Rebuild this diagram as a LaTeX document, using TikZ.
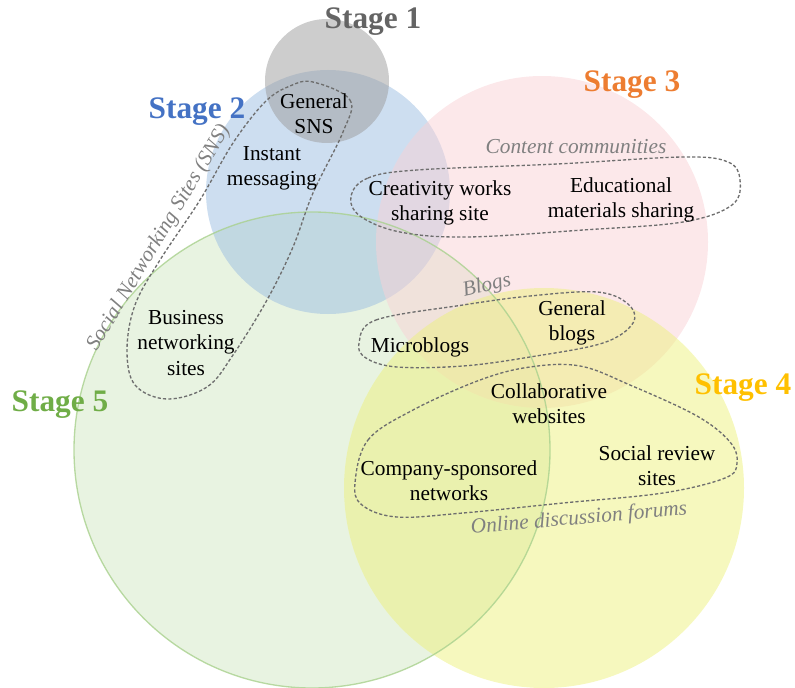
\documentclass[tikz,border=0pt]{standalone}
\usepackage{fontspec}
\setmainfont{Liberation Serif}
\definecolor{grayfill}{RGB}{155,155,155}
\definecolor{bluefill}{RGB}{155,189,225}
\definecolor{pinkfill}{RGB}{249,209,214}
\definecolor{yellowfill}{RGB}{237,241,125}
\definecolor{greenfill}{RGB}{209,231,195}
\definecolor{greenline}{RGB}{169,209,142}
\definecolor{stageone}{RGB}{100,100,100}
\definecolor{stagetwo}{RGB}{68,114,196}
\definecolor{stagethree}{RGB}{237,125,49}
\definecolor{stagefour}{RGB}{255,192,0}
\definecolor{stagefive}{RGB}{112,173,71}
\definecolor{loopgray}{RGB}{110,110,110}
\begin{document}
\begin{tikzpicture}[x=0.75pt,y=-0.75pt,
  stagedisc/.style={fill opacity=0.5},
  item/.style={align=center,font=\fontsize{16}{19}\selectfont,inner sep=0pt},
  grouplabel/.style={font=\itshape\fontsize{16}{19}\selectfont,text=black!50,inner sep=0pt},
  stagelabel/.style={font=\bfseries\fontsize{23.5}{26}\selectfont,inner sep=0pt},
  grouploop/.style={draw=loopgray,line width=1pt,dash pattern=on 2.4pt off 1.6pt}]
\useasboundingbox (0,0) rectangle (795,688);
% stage discs
\fill[greenfill,stagedisc] (312,450) circle[radius=178.5pt];
\fill[bluefill,stagedisc] (328,192) circle[radius=91.5pt];
\fill[grayfill,stagedisc] (327,81) circle[radius=46.5pt];
\fill[pinkfill,stagedisc] (542,242) circle[radius=124.5pt];
\fill[yellowfill,stagedisc] (544,488) circle[radius=150pt];
\draw[greenline,line width=1pt,draw opacity=0.8] (312,450) circle[radius=178.5pt];
% stage labels
\node[stagelabel,text=stageone] (s1) at (373,22) {Stage 1};
\node[stagelabel,text=stagetwo] (s2) at (197,112) {Stage 2};
\node[stagelabel,text=stagethree] (s3) at (632,85) {Stage 3};
\node[stagelabel,text=stagefour] (s4) at (743,388) {Stage 4};
\node[stagelabel,text=stagefive] (s5) at (60,405) {Stage 5};
% group loops
\draw[grouploop] plot[smooth cycle,tension=0.6] coordinates {(313,82) (350,100) (343,132) (313,193) (293,247) (267,300) (233,355) (207,387) (167,399) (135,385) (127,350) (135,305) (160,260) (200,200) (233,143) (265,102) (290,86)};
\draw[grouploop] plot[smooth cycle,tension=0.6] coordinates {(351,196) (368,178) (417,170) (557,164) (683,157) (728,162) (740,180) (732,205) (683,222) (583,230) (467,237) (400,232) (360,216)};
\draw[grouploop] plot[smooth cycle,tension=0.6] coordinates {(359,343) (376,320) (463,305) (530,296) (597,292) (628,304) (633,323) (603,343) (530,357) (463,366) (397,367) (366,358)};
\draw[grouploop] plot[smooth cycle,tension=0.6] coordinates {(355,483) (368,440) (413,410) (480,380) (530,367) (580,366) (630,385) (697,416) (730,442) (737,463) (725,478) (663,493) (563,503) (463,513) (397,517) (362,505)};
% group labels
\node[grouplabel,rotate=59] (gsns) at (159,238) {Social Networking Sites (SNS)};
\node[grouplabel] (gcc) at (576,147) {Content communities};
\node[grouplabel,rotate=13] (gblogs) at (487,286) {Blogs};
\node[grouplabel,rotate=5] (gforum) at (579,519) {Online discussion forums};
% items
\node[item] (gensns) at (314,114) {General\\SNS};
\node[item] (im) at (272,168) {Instant\\messaging};
\node[item] (cws) at (440,203) {Creativity works\\sharing site};
\node[item] (ems) at (621,200) {Educational\\materials sharing};
\node[item] (micro) at (420,347) {Microblogs};
\node[item] (genblogs) at (572,323) {General\\blogs};
\node[item] (collab) at (549,404) {Collaborative\\websites};
\node[item] (bns) at (186,343) {Business\\networking\\sites};
\node[item] (csn) at (449,481) {Company-sponsored\\networks};
\node[item] (srs) at (657,466) {Social review\\sites};
\end{tikzpicture}
\end{document}
